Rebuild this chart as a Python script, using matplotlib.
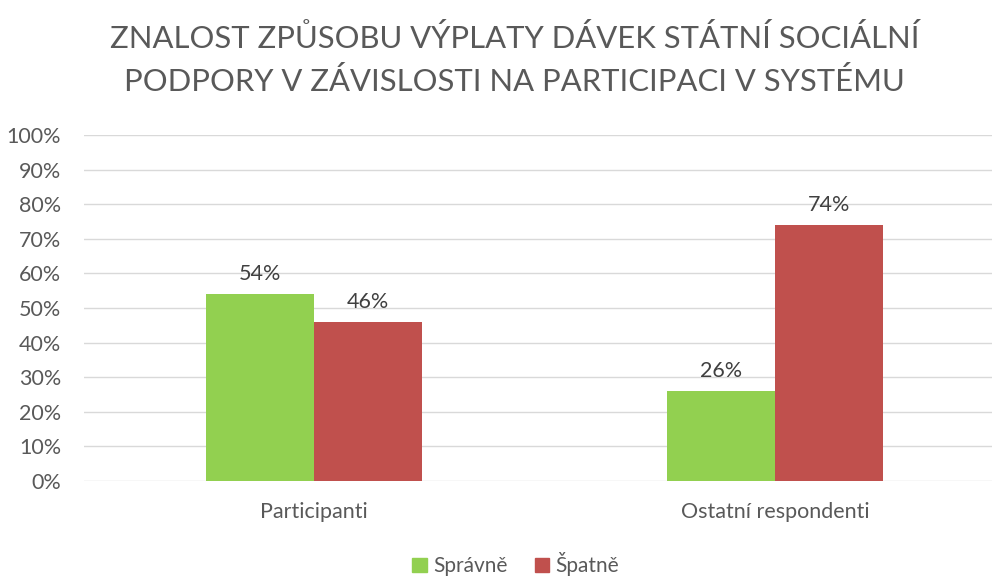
import numpy as np
import matplotlib
matplotlib.use('Agg')
import matplotlib.pyplot as plt
import matplotlib.patches as mpatches

# ── Data ─────────────────────────────────────────────────────────────────────
categories = ['Participanti', 'Ostatní respondenti']
series     = ['Správně', 'Špatně']
spravne    = [54, 26]
spatne     = [46, 74]

GREEN = '#92D050'
RED   = '#C0504D'
TEXT  = '#595959'
LABEL = '#404040'
GRID  = '#D9D9D9'

plt.rcParams['font.family'] = ['Lato', 'DejaVu Sans']

fig = plt.figure(figsize=(9.92, 5.76), dpi=100)
ax = fig.add_axes([83.5 / 992, 95 / 576, 922 / 992, 346 / 576])

x = np.arange(len(categories))
w = 0.234
b1 = ax.bar(x - w / 2, spravne, w, color=GREEN, label=series[0])
b2 = ax.bar(x + w / 2, spatne, w, color=RED, label=series[1])

for bars, vals in ((b1, spravne), (b2, spatne)):
    for rect, v in zip(bars, vals):
        ax.text(rect.get_x() + rect.get_width() / 2, v + 2.8, f'{v}%',
                ha='center', va='bottom', fontsize=15.5, color=LABEL)

ax.set_xlim(-0.5, 1.5)
ax.set_ylim(0, 100)
ax.set_yticks(np.arange(0, 101, 10))
ax.set_yticklabels([f'{t}%' for t in range(0, 101, 10)])
ax.set_xticks(x)
ax.set_xticklabels(categories)
ax.tick_params(axis='y', length=0, labelsize=15.5, colors=TEXT, pad=16)
ax.tick_params(axis='x', length=0, labelsize=15.5, colors=TEXT, pad=15)
ax.yaxis.grid(True, color=GRID, linewidth=1)
ax.set_axisbelow(True)
for s in ax.spines.values():
    s.set_visible(False)

fig.text(0.519, 0.896, 'ZNALOST ZPŮSOBU VÝPLATY DÁVEK STÁTNÍ SOCIÁLNÍ\nPODPORY V ZÁVISLOSTI NA PARTICIPACI V SYSTÉMU',
         ha='center', va='center', fontsize=22.3, color=TEXT, linespacing=1.55)

handles = [mpatches.Patch(color=GREEN, label=series[0]),
           mpatches.Patch(color=RED, label=series[1])]
leg = fig.legend(handles=handles, loc='center', bbox_to_anchor=(0.52, 0.02),
                 ncol=2, frameon=False, fontsize=15, handlelength=0.7,
                 handleheight=0.7, handletextpad=0.3, columnspacing=1.3)
for t in leg.get_texts():
    t.set_color(TEXT)

fig.savefig('out.png', dpi=100)
